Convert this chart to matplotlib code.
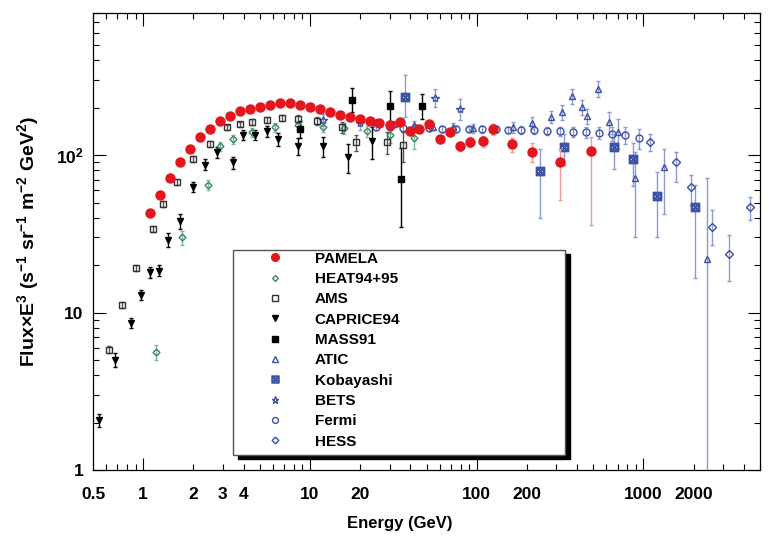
import matplotlib
matplotlib.use("Agg")
import matplotlib.pyplot as plt
import numpy as np
from matplotlib.lines import Line2D
from matplotlib.patches import Rectangle
from matplotlib.ticker import FixedLocator, LogLocator, FuncFormatter, NullFormatter

plt.rcParams['font.family'] = ['Liberation Sans', 'DejaVu Sans']
plt.rcParams['font.weight'] = 'bold'
plt.rcParams['mathtext.default'] = 'regular'

# ---- data: energy (GeV), flux*E^3, lower / upper errors ----
pamela_E = [1.1, 1.26, 1.45, 1.66, 1.91, 2.19, 2.52, 2.89, 3.32, 3.81, 4.37, 5.0, 5.76, 6.6, 7.6,
            8.7, 10, 11.5, 13.2, 15.1, 17.4, 20, 22.8, 26, 30, 34.5, 40, 45, 52, 60,
            69, 79, 91, 109, 125, 162, 216, 314, 488]
pamela_F = [42.7, 55.6, 72, 90, 109, 130, 146, 165, 177, 191, 197, 202, 207, 214, 214,
            207, 202, 197, 188, 180, 175, 170, 165, 160, 155, 163, 143, 146, 158, 126,
            140, 114, 121, 123, 146, 117, 105, 90, 106]
pamela_lo = [1, 1, 1, 1, 1, 1, 1, 1, 1, 1, 1, 1, 1, 1, 1, 1, 1, 1, 1, 1, 1, 1, 1, 2, 2,
             4, 5, 5, 6, 6, 7, 8, 9, 10, 12, 12, 15, 38, 70]
pamela_hi = [1, 1, 1, 1, 1, 1, 1, 1, 1, 1, 1, 1, 1, 1, 1, 1, 1, 1, 1, 1, 1, 1, 1, 2, 2,
             4, 5, 5, 6, 6, 7, 8, 9, 10, 12, 12, 15, 20, 25]

heat_E = [1.2, 1.7, 2.45, 2.9, 3.46, 4.5, 6.2, 8.5, 12, 16, 22, 30, 42]
heat_F = [5.6, 30, 65, 114, 126, 140, 150, 155, 150, 148, 142, 135, 128]
heat_err = [0.6, 3, 5, 8, 8, 9, 9, 10, 10, 11, 12, 15, 18]

ams_E = [0.62, 0.75, 0.9, 1.15, 1.32, 1.6, 2.0, 2.5, 3.2, 3.8, 4.5, 5.5, 6.8, 8.5, 11, 15.5, 19, 29, 36]
ams_F = [5.8, 11.2, 19.3, 34, 49, 68, 95, 118, 150, 157, 163, 168, 172, 170, 165, 150, 121, 121, 116]
ams_err = [0.3, 0.5, 0.8, 1.5, 2, 3, 4, 5, 6, 6, 7, 7, 8, 9, 10, 12, 14, 20, 25]

caprice_E = [0.54, 0.68, 0.84, 0.97, 1.1, 1.25, 1.41, 1.67, 1.99, 2.35, 2.77, 3.46, 3.97, 4.7,
             5.5, 6.4, 8.5, 11.9, 16.9, 23.5]
caprice_F = [2.08, 5.0, 8.6, 13, 18, 18.5, 29, 38, 63, 87, 104, 90, 134, 134, 142, 126, 114, 114, 97, 123]
caprice_err = [0.2, 0.5, 0.6, 1, 1.5, 1.5, 3, 4, 5, 7, 8, 8, 10, 10, 12, 12, 14, 16, 20, 28]

mass_E = [8.7, 17.8, 30, 35, 47]
mass_F = [146, 224, 205, 71, 205]
mass_lo = [18, 35, 40, 36, 35]
mass_hi = [20, 45, 50, 40, 40]

atic_E = [25, 32, 42, 55, 72, 95, 125, 165, 215, 280, 323, 371, 431, 456, 532, 625, 700, 884, 1330, 2390]
atic_F = [162, 158, 156, 152, 150, 148, 147, 150, 160, 175, 188, 237, 202, 177, 264, 162, 140, 72, 84, 21.8]
atic_lo = [8, 8, 8, 8, 9, 10, 10, 12, 14, 16, 20, 25, 22, 20, 30, 25, 30, 42, 42, 21.6]
atic_hi = [8, 8, 8, 8, 9, 10, 10, 12, 14, 16, 20, 25, 22, 20, 30, 25, 30, 32, 25, 50]

koba_E = [37, 240, 336, 670, 860, 1200, 2030]
koba_F = [235, 79, 112, 112, 94, 55, 46.6]
koba_lo = [60, 39, 25, 30, 30, 25, 30]
koba_hi = [90, 30, 25, 25, 25, 23, 18]

bets_E = [12, 20, 56, 79]
bets_F = [168, 160, 232, 197]
bets_err = [15, 15, 30, 30]

fermi_E = [25, 30, 36, 43, 52, 62, 75, 90, 108, 130, 155, 185, 220, 265, 315, 380, 455, 545, 650, 780, 940]
fermi_F = [150, 150, 149, 148, 148, 147, 147, 146, 146, 146, 145, 145, 144, 143, 142, 141, 140, 139, 137, 134, 128]
fermi_err = [6, 6, 6, 6, 6, 6, 6, 6, 7, 7, 7, 8, 8, 9, 9, 10, 11, 12, 14, 16, 18]

hess_E = [1100, 1570, 1940, 2560, 3250, 4330]
hess_F = [121, 90, 63, 35, 23.4, 46.6]
hess_lo = [15, 22, 15, 8, 7.6, 8]
hess_hi = [15, 14, 12, 10, 7.6, 8]

labels = ["PAMELA", "HEAT94+95", "AMS", "CAPRICE94", "MASS91", "ATIC", "Kobayashi", "BETS", "Fermi", "HESS"]

red = "#e3161d"
green = "#3a8a5a"
blue = "#3f51a3"
lblue = "#8c9ad0"

fig = plt.figure(figsize=(7.69, 5.40), dpi=100)
ax = fig.add_axes([93/769, 70/540, 667/769, 457/540])
ax.set_xscale('log')
ax.set_yscale('log')

# styles: (marker, face, edge, size, errcolor)
styles = [
    ('o', red, red, 6.5, '#f19a9a'),
    ('D', 'none', green, 3.5, '#7fb89a'),
    ('s', 'none', '#333333', 5, '#555555'),
    ('v', 'black', 'black', 5, 'black'),
    ('s', 'black', 'black', 5, 'black'),
    ('^', 'none', blue, 5, lblue),
    ('$\\boxtimes$', blue, blue, 6, lblue),
    ('*', 'none', blue, 6, lblue),
    ('o', 'none', blue, 5, lblue),
    ('D', 'none', blue, 4, lblue),
]

series = [
    (pamela_E, pamela_F, pamela_lo, pamela_hi),
    (heat_E, heat_F, heat_err, heat_err),
    (ams_E, ams_F, ams_err, ams_err),
    (caprice_E, caprice_F, caprice_err, caprice_err),
    (mass_E, mass_F, mass_lo, mass_hi),
    (atic_E, atic_F, atic_lo, atic_hi),
    (koba_E, koba_F, koba_lo, koba_hi),
    (bets_E, bets_F, bets_err, bets_err),
    (fermi_E, fermi_F, fermi_err, fermi_err),
    (hess_E, hess_F, hess_lo, hess_hi),
]

order = [8, 5, 6, 7, 9, 1, 2, 3, 4, 0]  # draw PAMELA roughly on top like the original
for i in order:
    E, F, lo, hi = series[i]
    m, fc, ec, ms, errc = styles[i]
    ax.errorbar(E, F, yerr=[lo, hi], fmt='none', ecolor=errc, elinewidth=1.0,
                capsize=1.5, zorder=3 if i else 4)
    ax.plot(E, F, ls='none', marker=m, mfc=fc, mec=ec, ms=ms, mew=1.0,
            zorder=3.5 if i else 4.5)

ax.set_xlim(0.5, 5000)
ax.set_ylim(1, 800)

# ticks ROOT-like
ax.xaxis.set_major_locator(FixedLocator([1, 10, 100, 1000]))
ax.xaxis.set_minor_locator(LogLocator(base=10, subs=np.arange(2, 10), numticks=20))
ax.xaxis.set_major_formatter(FuncFormatter(lambda v, p: "%g" % v))
xlab_minor = [0.5, 2, 3, 4, 20, 200, 2000]
ax.xaxis.set_minor_formatter(FuncFormatter(
    lambda v, p: ("%g" % v) if any(np.isclose(v, t) for t in xlab_minor) else ""))

ax.yaxis.set_major_locator(FixedLocator([1, 10, 100]))
ax.yaxis.set_minor_locator(LogLocator(base=10, subs=np.arange(2, 10), numticks=20))
ax.yaxis.set_major_formatter(FuncFormatter(lambda v, p: {1: "1", 10: "10", 100: "10$^{2}$"}.get(int(round(v)), "")))
ax.yaxis.set_minor_formatter(NullFormatter())

ax.tick_params(which='both', direction='in', top=True, right=True, width=0.8)
ax.tick_params(which='major', length=9)
ax.tick_params(which='minor', length=4)
ax.tick_params(axis='x', which='both', pad=12, labelsize=12.5)
ax.tick_params(axis='y', which='both', pad=7, labelsize=12.5)
for s in ax.spines.values():
    s.set_linewidth(0.9)

ax.set_xlabel("Energy (GeV)", fontsize=12, fontweight='bold')
ax.xaxis.set_label_coords(0.46, -0.100)
ax.set_ylabel("Flux×E$^{3}$ (s$^{-1}$ sr$^{-1}$ m$^{-2}$ GeV$^{2}$)", fontsize=14, fontweight='bold')
ax.yaxis.set_label_coords(-0.078, 0.5)

# legend box with black shadow
lx0, ly0, lw, lh = 0.21, 0.033, 0.498, 0.448
ax.add_patch(Rectangle((lx0 + 0.0075, ly0 - 0.009), lw, lh, transform=ax.transAxes,
                       facecolor='black', edgecolor='black', zorder=5))
ax.add_patch(Rectangle((lx0, ly0), lw, lh, transform=ax.transAxes,
                       facecolor='white', edgecolor='#555555', lw=1.0, zorder=6))

handles = []
for i, lab in enumerate(labels):
    m, fc, ec, ms, errc = styles[i]
    handles.append(Line2D([], [], ls='none', marker=m, mfc=fc, mec=ec, ms=ms * 0.85, mew=1.0, label=lab))
leg = ax.legend(handles=handles, loc='upper left', bbox_to_anchor=(0.227, 0.478),
                frameon=False, handlelength=4.0, handletextpad=0.61,
                labelspacing=0.415, borderpad=0, borderaxespad=0,
                prop={'weight': 'bold', 'size': 11})
leg.set_zorder(7)

fig.savefig("out.png", dpi=100)
